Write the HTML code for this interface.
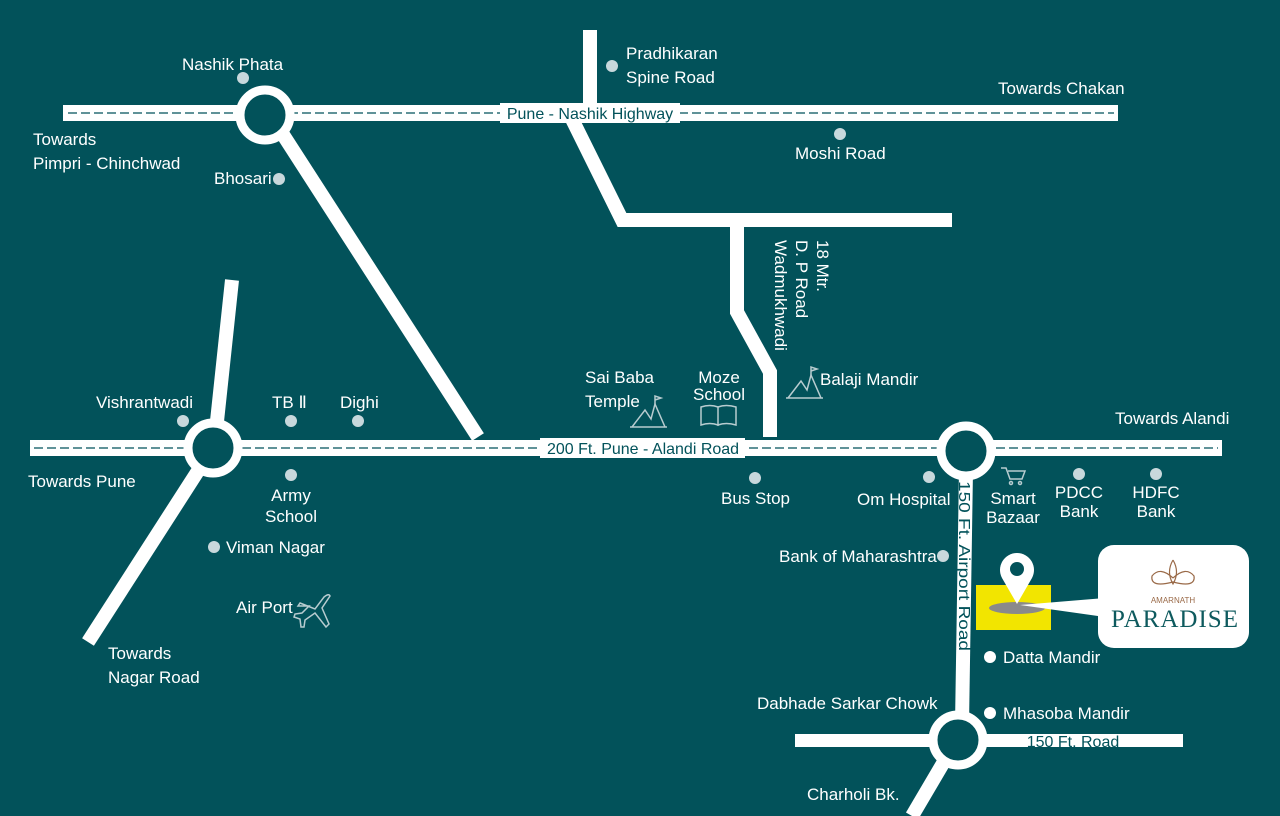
<!DOCTYPE html>
<html><head><meta charset="utf-8"><style>
html,body{margin:0;padding:0;background:#02525a;}
svg{display:block}
text{font-family:"Liberation Sans",sans-serif;fill:#fff;font-size:17px}
</style></head><body>
<svg width="1280" height="816" viewBox="0 0 1280 816" xmlns="http://www.w3.org/2000/svg">
<rect width="1280" height="816" fill="#02525a"/>
<g stroke="#fff" stroke-width="14" fill="none" stroke-linecap="butt">
  <line x1="590" y1="30" x2="590" y2="110"/>
  <polyline points="570,115 622,220 952,220"/>
  <polyline points="737,220 737,312 770,372 770,437"/>
  <line x1="280" y1="130" x2="478" y2="437"/>
  <line x1="232" y1="280" x2="215" y2="440"/>
  <line x1="205" y1="460" x2="88" y2="642"/>
  <polyline points="966,470 962,725"/>
  <line x1="945" y1="760" x2="912" y2="816"/>
</g>
<rect x="63" y="105" width="1055" height="16" fill="#fff"/>
<line x1="68" y1="113" x2="1114" y2="113" stroke="#02525a" stroke-width="1.3" stroke-dasharray="9,4"/>
<rect x="500" y="103" width="180" height="20" fill="#fff"/>
<text x="590" y="119" text-anchor="middle" style="fill:#02525a;font-size:16px">Pune - Nashik Highway</text>

<rect x="30" y="440" width="1192" height="16" fill="#fff"/>
<line x1="34" y1="448" x2="1218" y2="448" stroke="#02525a" stroke-width="1.3" stroke-dasharray="9,4"/>
<rect x="540" y="438" width="205" height="20" fill="#fff"/>
<text x="643" y="454" text-anchor="middle" style="fill:#02525a;font-size:16px">200 Ft. Pune - Alandi Road</text>

<rect x="795" y="734" width="388" height="13" fill="#fff"/>
<text x="1073" y="747" text-anchor="middle" style="fill:#02525a;font-size:16px">150 Ft. Road</text>

<text transform="translate(959,481) rotate(90)" textLength="170" lengthAdjust="spacingAndGlyphs" style="font-size:16px;fill:#02525a">150 Ft. Airport Road</text>

<g fill="#02525a" stroke="#fff" stroke-width="9">
<circle cx="265" cy="115" r="25"/>
<circle cx="213" cy="448" r="25"/>
<circle cx="966" cy="451" r="25"/>
<circle cx="958" cy="740" r="25"/>
</g>

<g transform="rotate(90)">
<text x="240" y="-817">18 Mtr.</text>
<text x="240" y="-796">D. P Road</text>
<text x="240" y="-775">Wadmukhwadi</text>
</g>

<g fill="#c8d8dc">
<circle cx="243" cy="78" r="6"/><circle cx="612" cy="66" r="6"/><circle cx="840" cy="134" r="6"/>
<circle cx="279" cy="179" r="6"/><circle cx="183" cy="421" r="6"/><circle cx="291" cy="421" r="6"/>
<circle cx="358" cy="421" r="6"/><circle cx="291" cy="475" r="6"/><circle cx="214" cy="547" r="6"/>
<circle cx="755" cy="478" r="6"/><circle cx="929" cy="477" r="6"/><circle cx="1079" cy="474" r="6"/>
<circle cx="1156" cy="474" r="6"/><circle cx="943" cy="556" r="6"/>
</g>
<circle cx="990" cy="657" r="6" fill="#fff"/><circle cx="990" cy="713" r="6" fill="#fff"/>

<text x="182" y="70">Nashik Phata</text>
<text x="626" y="59">Pradhikaran</text><text x="626" y="83">Spine Road</text>
<text x="998" y="94">Towards Chakan</text>
<text x="33" y="145">Towards</text><text x="33" y="169">Pimpri - Chinchwad</text>
<text x="795" y="159">Moshi Road</text>
<text x="214" y="184">Bhosari</text>
<text x="585" y="383">Sai Baba</text><text x="585" y="407">Temple</text>
<text x="719" y="383" text-anchor="middle">Moze</text><text x="719" y="400" text-anchor="middle">School</text>
<text x="820" y="385">Balaji Mandir</text>
<text x="96" y="408">Vishrantwadi</text>
<text x="272" y="408">TB Ⅱ</text>
<text x="340" y="408">Dighi</text>
<text x="1115" y="424">Towards Alandi</text>
<text x="28" y="487">Towards Pune</text>
<text x="291" y="501" text-anchor="middle">Army</text><text x="291" y="522" text-anchor="middle">School</text>
<text x="721" y="504">Bus Stop</text>
<text x="857" y="505">Om Hospital</text>
<text x="1013" y="504" text-anchor="middle">Smart</text><text x="1013" y="523" text-anchor="middle">Bazaar</text>
<text x="1079" y="498" text-anchor="middle">PDCC</text><text x="1079" y="517" text-anchor="middle">Bank</text>
<text x="1156" y="498" text-anchor="middle">HDFC</text><text x="1156" y="517" text-anchor="middle">Bank</text>
<text x="226" y="553">Viman Nagar</text>
<text x="779" y="562">Bank of Maharashtra</text>
<text x="236" y="613">Air Port</text>
<text x="108" y="659">Towards</text><text x="108" y="683">Nagar Road</text>
<text x="1003" y="663">Datta Mandir</text>
<text x="757" y="709">Dabhade Sarkar Chowk</text>
<text x="1003" y="719">Mhasoba Mandir</text>
<text x="807" y="800">Charholi Bk.</text>

<g stroke="#b8ccd0" stroke-width="1.5" fill="none">
<path d="M632,427 L645,410 L651,419 L655,404 L665,427 Z M630,427 H667"/>
<path d="M655,404 V396 L661,398 L655,400"/>
<path d="M788,398 L801,381 L807,390 L811,375 L821,398 Z M786,398 H823"/>
<path d="M811,375 V367 L817,369 L811,371"/>
<path d="M718,407 Q726,404 736,407 V425 Q726,422 718,425 Z M718,407 Q710,404 701,407 V425 Q710,422 718,425 Z"/>
<path d="M1001,468 H1006 L1010,479 H1022 L1025,471 H1008"/><circle cx="1011" cy="483" r="1.5"/><circle cx="1020" cy="483" r="1.5"/>
<path d="M300,603 L315,609 L324,597 Q329,593 330,596 L322,608 L329,624 L326,627 L315,613 L305,620 L304,627 L301,627 L300,619 L294,617 L295,614 L302,613 L309,606 L298,606 Z"/>
</g>

<rect x="976" y="585" width="75" height="45" fill="#f2e500"/>
<ellipse cx="1017" cy="608" rx="28" ry="6" fill="#8a8a8a"/>
<polygon points="1020,605 1105,598 1105,617" fill="#fff"/>
<path d="M1017,604 L1002,578 A17,17 0 1 1 1032,578 Z" fill="#fff"/>
<circle cx="1017" cy="569" r="7" fill="#02525a"/>
<rect x="1098" y="545" width="151" height="103" rx="16" fill="#fff"/>
<g stroke="#9a6a48" stroke-width="1.2" fill="none">
<path d="M1173,560 Q1166,572 1173,584 Q1180,572 1173,560"/>
<path d="M1173,578 Q1160,566 1152,576 Q1150,588 1173,582 Q1196,588 1194,576 Q1186,566 1173,578"/>
</g>
<text x="1173" y="603" text-anchor="middle" style="fill:#9a6a48;font-size:8px">AMARNATH</text>
<text x="1175" y="627" text-anchor="middle" style="fill:#0e5a5e;font-size:25px;font-family:'Liberation Serif',serif;letter-spacing:1px">PARADISE</text>
</svg>
</body></html>
